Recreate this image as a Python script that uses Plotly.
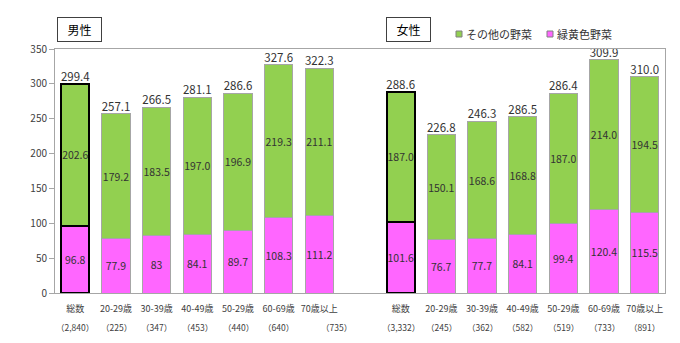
import plotly.graph_objects as go

# Age groups (male block, spacer, female block)
male_groups = ["総数", "20-29歳", "30-39歳", "40-49歳", "50-29歳", "60-69歳", "70歳以上"]
female_groups = ["総数", "20-29歳", "30-39歳", "40-49歳", "50-29歳", "60-69歳", "70歳以上"]
male_counts = ["2,840", "225", "347", "453", "440", "640", "735"]
female_counts = ["3,332", "245", "362", "582", "519", "733", "891"]

# Vegetable intake (g), as printed in each segment
male_green_yellow = ["96.8", "77.9", "83", "84.1", "89.7", "108.3", "111.2"]
male_other = ["202.6", "179.2", "183.5", "197.0", "196.9", "219.3", "211.1"]
female_green_yellow = ["101.6", "76.7", "77.7", "84.1", "99.4", "120.4", "115.5"]
female_other = ["187.0", "150.1", "168.6", "168.8", "187.0", "214.0", "194.5"]

# Totals printed above each bar
male_totals = ["299.4", "257.1", "266.5", "281.1", "286.6", "327.6", "322.3"]
female_totals = ["288.6", "226.8", "246.3", "286.5", "286.4", "309.9", "310.0"]

legend_names = ["その他の野菜", "緑黄色野菜"]

FONT = "Noto Sans CJK JP"
GREEN = "#92D050"
PINK = "#FF66FF"

n = len(male_groups)
x_male = list(range(n))
x_female = list(range(n + 1, 2 * n + 1))
xs = x_male + x_female

gy_txt = male_green_yellow + female_green_yellow
ot_txt = male_other + female_other
gy = [float(v) for v in gy_txt]
ot = [float(v) for v in ot_txt]
totals_txt = male_totals + female_totals
tops = [a + b for a, b in zip(gy, ot)]

is_total = [g == "総数" for g in male_groups + female_groups]
line_colors = ["#000000" if t else "#A6A6A6" for t in is_total]
line_widths = [2 if t else 1 for t in is_total]

seg_font = dict(family=FONT, size=10.5, color="#333333")

fig = go.Figure()
# Stack: green-yellow vegetables at the bottom, other vegetables on top
fig.add_trace(go.Bar(
    x=xs, y=gy, name=legend_names[1], text=gy_txt, showlegend=False,
    marker=dict(color=PINK, line=dict(color=line_colors, width=line_widths)),
    textposition="inside", insidetextanchor="middle", constraintext="none",
    textangle=0, textfont=seg_font, width=0.69,
))
fig.add_trace(go.Bar(
    x=xs, y=ot, name=legend_names[0], text=ot_txt, showlegend=False,
    marker=dict(color=GREEN, line=dict(color=line_colors, width=line_widths)),
    textposition="inside", insidetextanchor="middle", constraintext="none",
    textangle=0, textfont=seg_font, width=0.69,
))
fig.add_trace(go.Scatter(
    x=xs, y=tops, text=totals_txt, mode="text", textposition="top center",
    textfont=dict(family=FONT, size=11.5, color="#333333"),
    showlegend=False, hoverinfo="skip", cliponaxis=False,
))

annotations = []
shapes = []
# Sample sizes under each group label
for i, (x, c) in enumerate(list(zip(x_male, male_counts)) + list(zip(x_female, female_counts))):
    shift = 17 if (i == n - 1) else 0
    annotations.append(dict(
        x=x, y=-0.139, xref="x", yref="paper", text=f"（{c}）", showarrow=False,
        xshift=shift, font=dict(family=FONT, size=8.5, color="#404040"), yanchor="middle",
    ))
# Sex captions in boxes
for label, px in (("男性", 0.040), ("女性", 0.5795)):
    annotations.append(dict(
        x=px, y=1.08, xref="paper", yref="paper", text=label, showarrow=False,
        font=dict(family=FONT, size=12, color="#000000"),
        bordercolor="#404040", borderwidth=1, width=39, height=19, borderpad=2,
        bgcolor="white", xanchor="center", yanchor="middle",
    ))
# Legend: small square keys followed by names
PLOT_L, PLOT_W, PLOT_B, PLOT_H = 55, 610, 293, 244
def px_x(p):
    return (p - PLOT_L) / PLOT_W
def px_y(p):
    return (PLOT_B - p) / PLOT_H
for name, col, key_left in zip(legend_names, (GREEN, PINK), (456, 547)):
    shapes.append(dict(
        type="rect", xref="paper", yref="paper",
        x0=px_x(key_left), x1=px_x(key_left + 6), y0=px_y(37), y1=px_y(31),
        fillcolor=col, line=dict(color="#808080", width=1),
    ))
    annotations.append(dict(
        x=px_x(key_left + 8), y=px_y(34), xref="paper", yref="paper", text=name,
        showarrow=False, xanchor="left", yanchor="middle",
        font=dict(family=FONT, size=11, color="#333333"),
    ))

fig.update_layout(
    width=680, height=343,
    margin=dict(l=55, r=15, t=49, b=50, autoexpand=False),
    barmode="stack", showlegend=False,
    paper_bgcolor="white", plot_bgcolor="white",
    font=dict(family=FONT, size=10, color="#404040"),
    annotations=annotations, shapes=shapes,
)

fig.update_xaxes(
    range=[-0.5, 2 * n + 0.5],
    tickvals=xs, ticktext=male_groups + female_groups, tickangle=0,
    showline=True, linecolor="#A6A6A6", linewidth=1, mirror=True,
    ticks="", showgrid=False, zeroline=False,
    tickfont=dict(family=FONT, size=9, color="#404040"),
    ticklabelstandoff=7,
)
fig.update_yaxes(
    range=[0, 350], dtick=50,
    showline=True, linecolor="#A6A6A6", linewidth=1, mirror=True,
    ticks="outside", ticklen=5, tickcolor="#A6A6A6",
    showgrid=False, zeroline=False,
    tickfont=dict(family=FONT, size=10, color="#404040"),
)

fig.write_html("out.html")
